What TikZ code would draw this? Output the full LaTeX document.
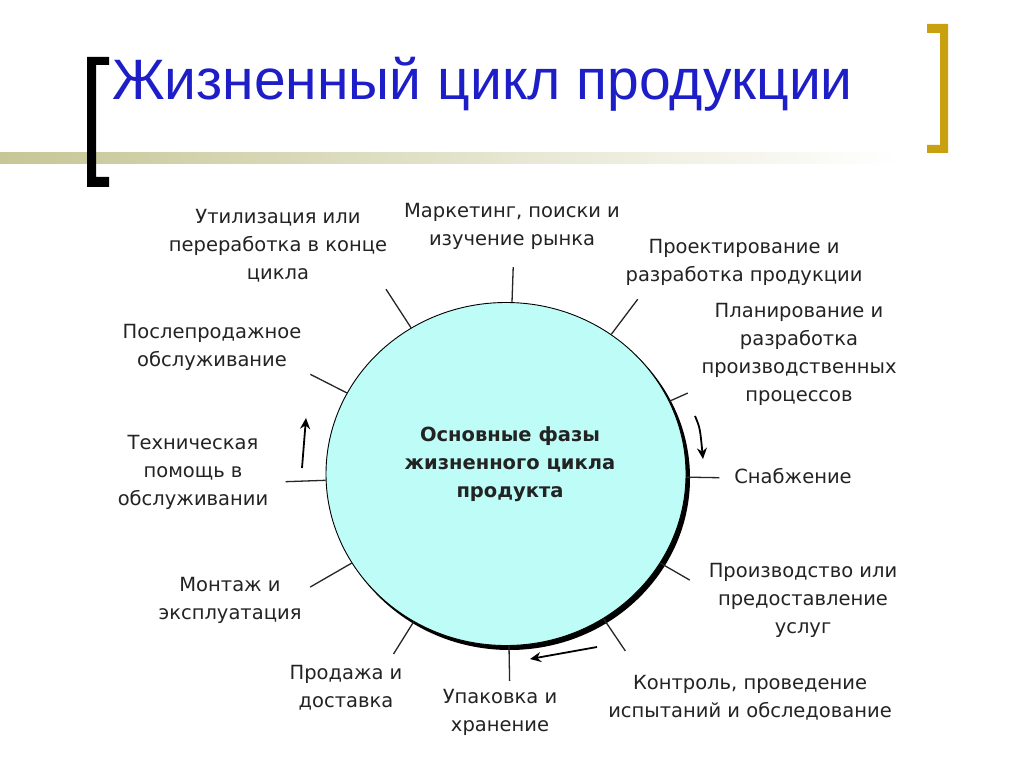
\documentclass[tikz,border=0pt]{standalone}
\usepackage{fontspec}
\setmainfont{DejaVu Sans}
\newfontfamily\titlefont{Liberation Sans}
\usetikzlibrary{shapes.geometric,arrows.meta,calc}
\definecolor{cyanfill}{RGB}{189,252,247}
\definecolor{titleblue}{RGB}{30,30,200}
\definecolor{gold}{RGB}{200,160,16}
\definecolor{olive}{RGB}{198,198,150}
\definecolor{txt}{RGB}{35,35,35}
\begin{document}
\begin{tikzpicture}[x=1pt,y=-1pt,
  lab/.style={font=\fontsize{19.5}{28}\selectfont, text=txt, align=center, inner sep=0pt},
  tickline/.style={draw=black!85, line width=1.3pt},
  cyc/.style={-{Stealth[length=11pt,width=10pt]}, line width=1.8pt}]
\useasboundingbox (0,0) rectangle (1024,767);
\fill[white] (0,0) rectangle (1024,767);
\shade[left color=olive, right color=white] (0,153) rectangle (900,164);
% brackets
\fill[black] (87,57) -- (109,57) -- (109,65) -- (96,65) -- (96,177) -- (109,177) -- (109,187) -- (87,187) -- cycle;
\fill[gold] (927,24) -- (948,24) -- (948,153) -- (927,153) -- (927,145) -- (940,145) -- (940,33) -- (927,33) -- cycle;
\node[font=\titlefont\fontsize{57}{64}\selectfont, text=titleblue, anchor=base west, inner sep=0pt] (title) at (112,100) {Жизненный цикл продукции};
% circle
\node[ellipse, fill=black, minimum width=361pt, minimum height=344pt, inner sep=0pt] (sh) at (509.5,478) {};
\node[ellipse, draw=black, line width=0.9pt, fill=cyanfill, minimum width=360pt, minimum height=343pt, inner sep=0pt] (c) at (506,474) {};
\node[font=\bfseries\fontsize{19.5}{28}\selectfont, text=txt, align=center, inner sep=0pt] (ctr) at (510,464) {Основные фазы\\жизненного цикла\\продукта};
% ticks
\foreach \n/\a/\l in {1/88.3/35, 2/53.7/44, 3/24.9/20, 4/-1.9/33, 5/-30.6/34, 6/-56.7/39, 7/-89.3/35, 8/-122.1/38, 9/-150.2/48, 10/-178.4/40, 11/153/41, 12/123/46}{
  \coordinate (t\n) at ($(c.\a)!-\l pt!(c.center)$);
  \draw[tickline] (c.\a) -- (t\n);
}
% cycle arrows
\coordinate (a1s) at (302,468); \coordinate (a1e) at (306,418);
\draw[cyc] (a1s) -- (a1e);
\coordinate (a2s) at (695,416); \coordinate (a2e) at (703,459);
\draw[cyc] (a2s) .. controls (700,428) .. (a2e);
\coordinate (a3s) at (597,647); \coordinate (a3e) at (530,659);
\draw[cyc] (a3s) -- (a3e);
% labels
\node[lab] (l1) at (512,226) {Маркетинг, поиски и\\изучение рынка};
\node[lab] (l2) at (744,262) {Проектирование и\\разработка продукции};
\node[lab] (l3) at (799,354) {Планирование и\\разработка\\производственных\\процессов};
\node[lab] (l4) at (793,476) {Снабжение};
\node[lab] (l5) at (803,600) {Производство или\\предоставление\\услуг};
\node[lab] (l6) at (750,698) {Контроль, проведение\\испытаний и обследование};
\node[lab] (l7) at (500,712) {Упаковка и\\хранение};
\node[lab] (l8) at (346,688) {Продажа и\\доставка};
\node[lab] (l9) at (230,600) {Монтаж и\\эксплуатация};
\node[lab] (l10) at (193,472) {Техническая\\помощь в\\обслуживании};
\node[lab] (l11) at (212,347) {Послепродажное\\обслуживание};
\node[lab] (l12) at (278,246) {Утилизация или\\переработка в конце\\цикла};
\end{tikzpicture}
\end{document}
